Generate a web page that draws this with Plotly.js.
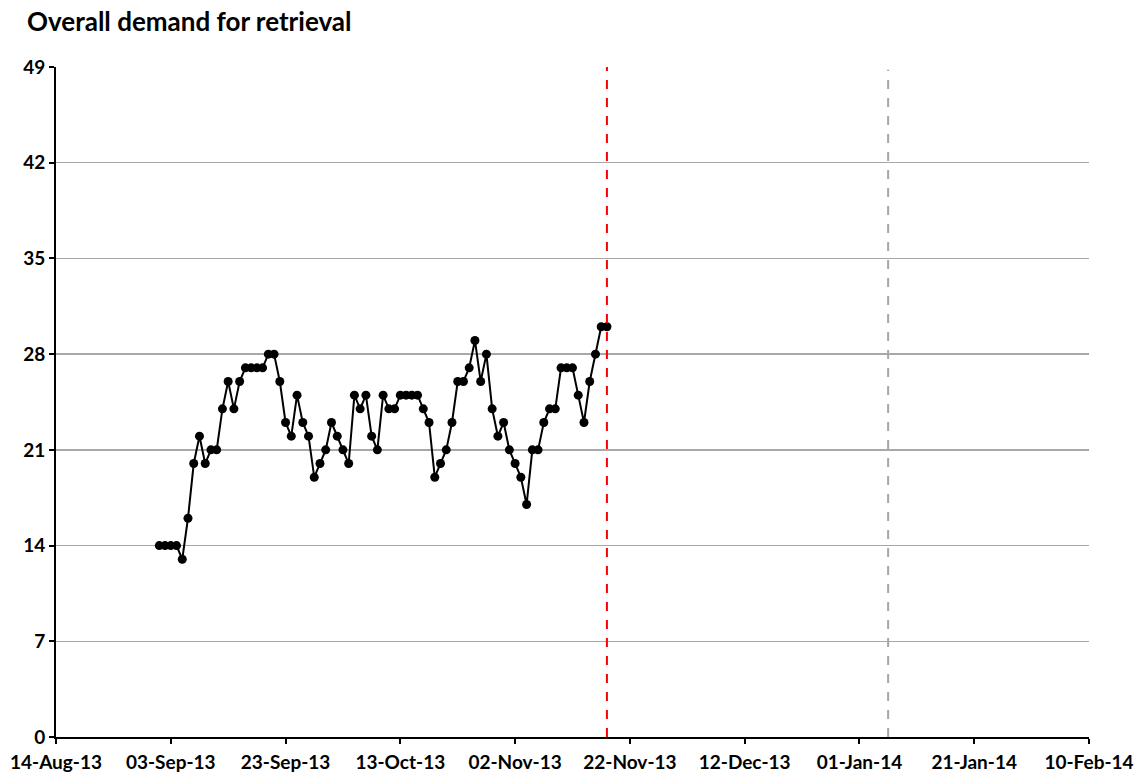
<!DOCTYPE html>
<html>
<head>
<meta charset="utf-8">
<script src="https://cdn.plot.ly/plotly-3.0.1.min.js"></script>
<style>html,body{margin:0;padding:0;background:#fff;}#chart{width:1139px;height:778px;}</style>
</head>
<body>
<div id="chart"></div>
<script>
const dates = [
  '2013-09-01','2013-09-02','2013-09-03','2013-09-04','2013-09-05','2013-09-06','2013-09-07','2013-09-08','2013-09-09','2013-09-10',
  '2013-09-11','2013-09-12','2013-09-13','2013-09-14','2013-09-15','2013-09-16','2013-09-17','2013-09-18','2013-09-19','2013-09-20',
  '2013-09-21','2013-09-22','2013-09-23','2013-09-24','2013-09-25','2013-09-26','2013-09-27','2013-09-28','2013-09-29','2013-09-30',
  '2013-10-01','2013-10-02','2013-10-03','2013-10-04','2013-10-05','2013-10-06','2013-10-07','2013-10-08','2013-10-09','2013-10-10',
  '2013-10-11','2013-10-12','2013-10-13','2013-10-14','2013-10-15','2013-10-16','2013-10-17','2013-10-18','2013-10-19','2013-10-20',
  '2013-10-21','2013-10-22','2013-10-23','2013-10-24','2013-10-25','2013-10-26','2013-10-27','2013-10-28','2013-10-29','2013-10-30',
  '2013-10-31','2013-11-01','2013-11-02','2013-11-03','2013-11-04','2013-11-05','2013-11-06','2013-11-07','2013-11-08','2013-11-09',
  '2013-11-10','2013-11-11','2013-11-12','2013-11-13','2013-11-14','2013-11-15','2013-11-16','2013-11-17','2013-11-18'
];
const demand = [
  14,14,14,14,13,16,20,22,20,21,
  21,24,26,24,26,27,27,27,27,28,
  28,26,23,22,25,23,22,19,20,21,
  23,22,21,20,25,24,25,22,21,25,
  24,24,25,25,25,25,24,23,19,20,
  21,23,26,26,27,29,26,28,24,22,
  23,21,20,19,17,21,21,23,24,24,
  27,27,27,25,23,26,28,30,30
];
const yTicks = [0,7,14,21,28,35,42,49];
const xRange = ['2013-08-14','2014-02-10'];
const redLineDate = '2013-11-18';
const greyLineDate = '2014-01-06';

const font = 'Lato, "Open Sans", "Liberation Sans", sans-serif';

const trace = {
  x: dates, y: demand, type: 'scatter', mode: 'lines+markers',
  line: {color: '#000', width: 2},
  marker: {color: '#000', size: 9},
  hoverinfo: 'x+y'
};

const layout = {
  width: 1139, height: 778,
  margin: {l: 56, r: 50, t: 67, b: 41},
  paper_bgcolor: '#fff', plot_bgcolor: '#fff',
  showlegend: false,
  title: {text: '<b>Overall demand for retrieval</b>', x: 27/1139, xanchor: 'left', y: 1 - 22/778, yanchor: 'middle',
          font: {family: font, size: 26, color: '#000'}},
  xaxis: {
    type: 'date', range: xRange, tick0: xRange[0], dtick: 20*86400000,
    tickformat: '%d-%b-%y', showgrid: false, zeroline: false,
    showline: true, linecolor: '#000', linewidth: 2,
    ticks: 'outside', ticklen: 5, tickwidth: 2, tickcolor: '#000',
    ticklabelstandoff: 2,
    tickfont: {family: font, size: 19, color: '#000', weight: 'bold'}
  },
  yaxis: {
    range: [0, 49], tickvals: yTicks, ticktext: yTicks.map(String),
    showgrid: true, gridcolor: '#a8a8a8', gridwidth: 1.5, zeroline: false,
    showline: true, linecolor: '#000', linewidth: 2,
    ticks: 'outside', ticklen: 5, tickwidth: 2, tickcolor: '#000',
    tickfont: {family: font, size: 19, color: '#000', weight: 'bold'}
  },
  shapes: [
    {type: 'line', xref: 'x', yref: 'y', x0: redLineDate, x1: redLineDate, y0: 0, y1: 49,
     line: {color: '#ff0000', width: 2, dash: 'dash'}},
    {type: 'line', xref: 'x', yref: 'y', x0: greyLineDate, x1: greyLineDate, y0: 0, y1: 48.8,
     line: {color: '#a6a6a6', width: 2, dash: 'dash'}}
  ]
};

Plotly.newPlot('chart', [trace], layout, {displayModeBar: false, staticPlot: true});
</script>
</body>
</html>
